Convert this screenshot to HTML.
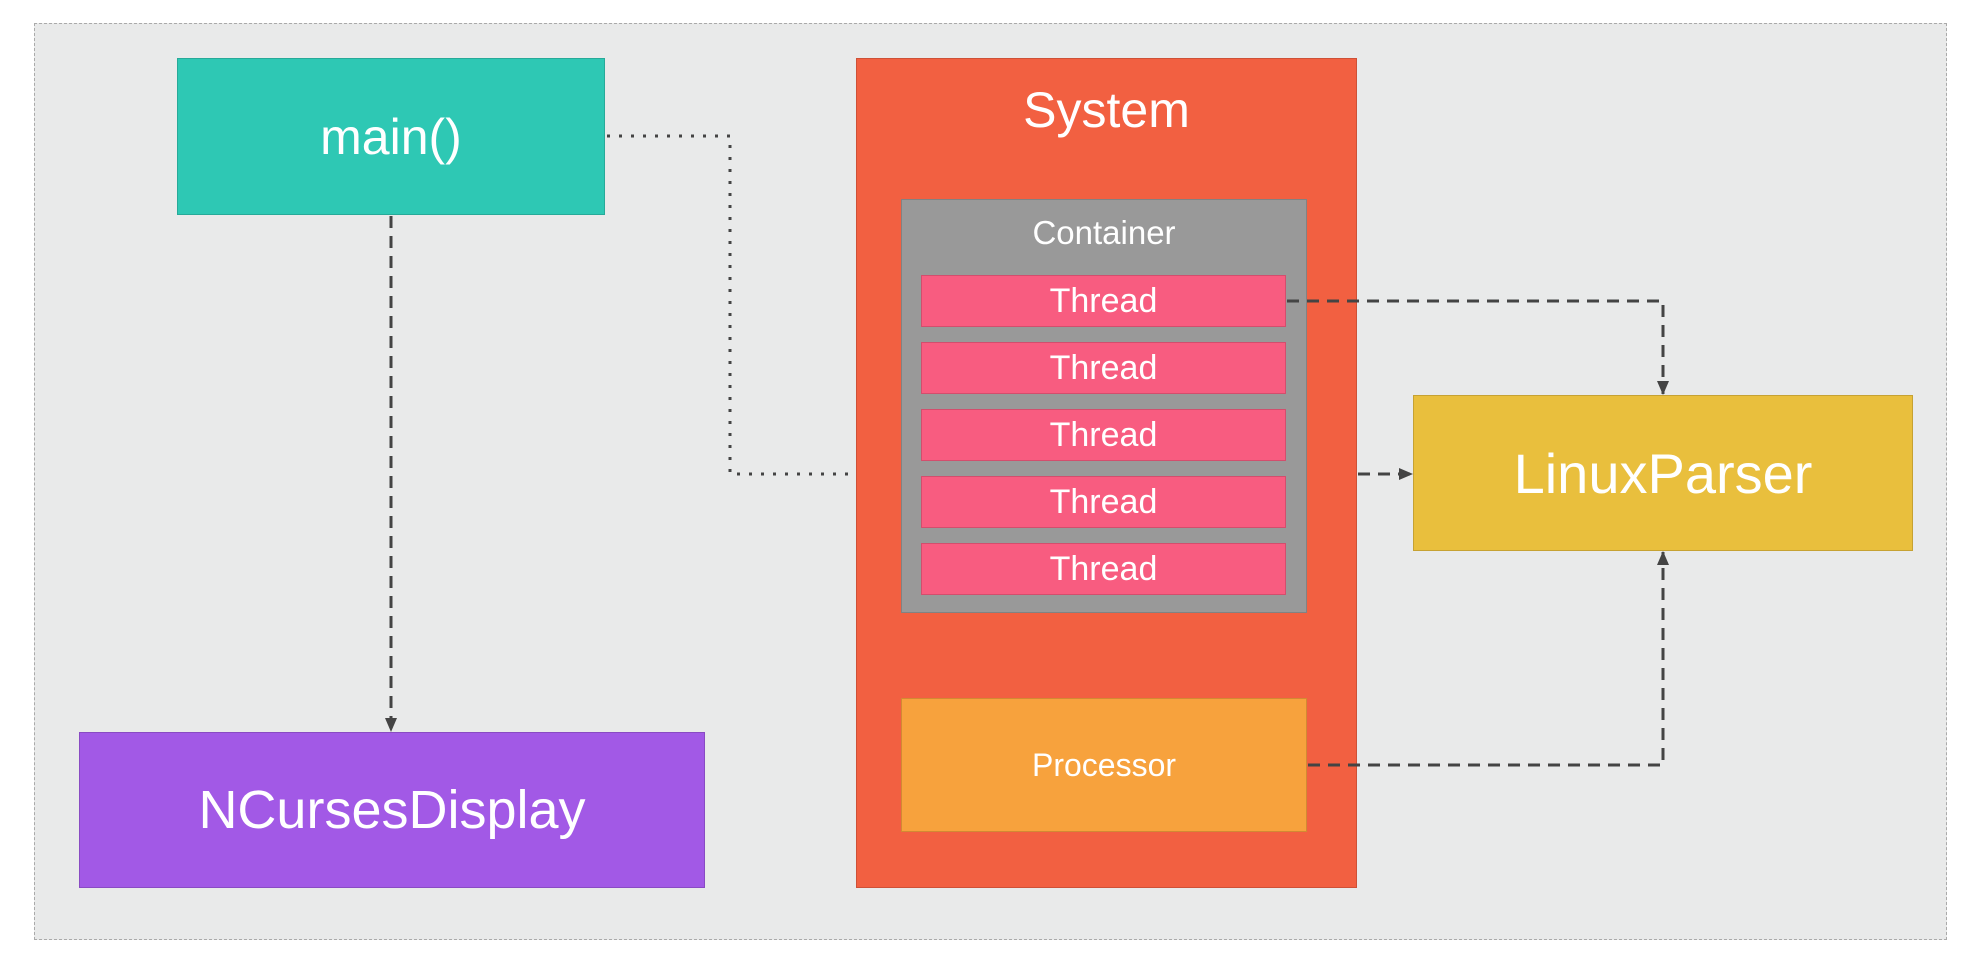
<!DOCTYPE html>
<html><head><style>
body{margin:0;width:1986px;height:972px;background:#fff;overflow:hidden;font-family:"Liberation Sans",sans-serif}
.b{position:absolute;display:flex;align-items:center;justify-content:center;color:#fff;box-sizing:border-box;border:1px solid rgba(0,0,0,0.15)}
</style></head><body>
<div style="position:absolute;left:34px;top:23px;width:1913px;height:917px;background:#e9eaea;border:1.5px dashed #aaa;box-sizing:border-box"></div>
<div class="b" style="left:177px;top:58px;width:428px;height:157px;background:#2ec8b4;font-size:50px">main()</div>
<div class="b" style="left:79px;top:732px;width:626px;height:156px;background:#a259e6;font-size:54px">NCursesDisplay</div>
<div class="b" style="left:856px;top:58px;width:501px;height:830px;background:#f26041;align-items:flex-start;padding-top:22px;font-size:50px">System</div>
<div class="b" style="left:901px;top:199px;width:406px;height:414px;background:#999;align-items:flex-start;padding-top:14px;font-size:33px">Container</div>
<div class="b" style="left:921px;top:275px;width:365px;height:52px;background:#f85c80;font-size:34px">Thread</div>
<div class="b" style="left:921px;top:342px;width:365px;height:52px;background:#f85c80;font-size:34px">Thread</div>
<div class="b" style="left:921px;top:409px;width:365px;height:52px;background:#f85c80;font-size:34px">Thread</div>
<div class="b" style="left:921px;top:476px;width:365px;height:52px;background:#f85c80;font-size:34px">Thread</div>
<div class="b" style="left:921px;top:543px;width:365px;height:52px;background:#f85c80;font-size:34px">Thread</div>
<div class="b" style="left:901px;top:698px;width:406px;height:134px;background:#f7a23d;font-size:32px">Processor</div>
<div class="b" style="left:1413px;top:395px;width:500px;height:156px;background:#e9bf3d;font-size:56px">LinuxParser</div>
<svg width="1986" height="972" style="position:absolute;left:0;top:0">
<defs><marker id="a" markerWidth="14" markerHeight="14" refX="13" refY="7" orient="auto" markerUnits="userSpaceOnUse"><path d="M0,1 L14,7 L0,13 z" fill="#444"/></marker></defs>
<g fill="none" stroke="#444" stroke-width="3">
<path d="M607,136 H730 V474 H850" stroke-dasharray="3,9"/>
<path d="M391,216 V731" stroke-dasharray="12,8" marker-end="url(#a)"/>
<path d="M1287,301 H1663 V394" stroke-dasharray="12,8" marker-end="url(#a)"/>
<path d="M1358,474 H1412" stroke-dasharray="12,8" marker-end="url(#a)"/>
<path d="M1308,765 H1663 V552" stroke-dasharray="12,8" marker-end="url(#a)"/>
</g></svg>
</body></html>
